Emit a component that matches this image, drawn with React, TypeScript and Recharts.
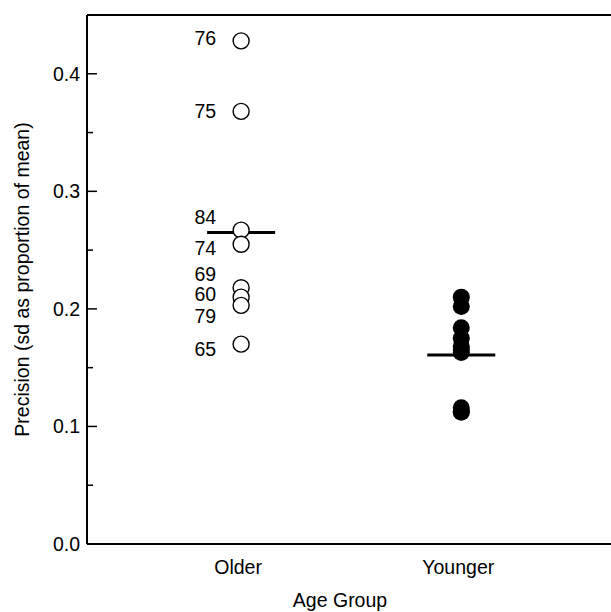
import { ScatterChart, Scatter, XAxis, YAxis, ReferenceLine } from "recharts";

const GROUPS = ["Older", "Younger"];
const OLDER_IDS = [76, 75, 84, 74, 69, 60, 79, 65];
const OLDER_VALUES = [0.428, 0.368, 0.267, 0.255, 0.218, 0.21, 0.203, 0.17];
const YOUNGER_VALUES = [0.21, 0.202, 0.184, 0.175, 0.168, 0.165, 0.163, 0.116, 0.113, 0.112];
const MAJOR_TICKS = [0, 0.1, 0.2, 0.3, 0.4];
const MINOR_TICKS = [0.05, 0.15, 0.25, 0.35];

// pixel nudges so the subject ids don't run into each other
const LABEL_DY: Record<number, number> = { 76: -3, 75: 0, 84: -13, 74: 4, 69: -14, 60: -3, 79: 11, 65: 5 };

const mean = (a: number[]) => a.reduce((s, v) => s + v, 0) / a.length;

const olderData = OLDER_VALUES.map((v, i) => ({ x: 1, y: v, id: OLDER_IDS[i] }));
const youngerData = YOUNGER_VALUES.map((v) => ({ x: 2, y: v }));
const meanData = [
  { x: 1, y: mean(OLDER_VALUES) },
  { x: 2, y: mean(YOUNGER_VALUES) },
];

const FONT = "Arial, 'Liberation Sans', sans-serif";
const FS = 19.5;

function YTick(props: any) {
  const { x, y, payload } = props;
  const major = MAJOR_TICKS.includes(payload.value);
  return (
    <g>
      <line x1={x} x2={x + (major ? 10 : 6)} y1={y} y2={y} stroke="#000" strokeWidth={1.5} />
      {major && (
        <text x={x - 7} y={y} dy={7} textAnchor="end" fontSize={FS} fill="#000">
          {payload.value.toFixed(1)}
        </text>
      )}
    </g>
  );
}

function XTick(props: any) {
  const { x, y, payload } = props;
  return (
    <text x={x} y={y} dx={-3} dy={30} textAnchor="middle" fontSize={FS} fill="#000">
      {GROUPS[payload.value - 1]}
    </text>
  );
}

const MeanBar = (props: any) => (
  <line x1={props.cx - 34} x2={props.cx + 34} y1={props.cy} y2={props.cy} stroke="#000" strokeWidth={3} />
);

const OpenPoint = (props: any) => {
  const { cx, cy, payload } = props;
  return (
    <g>
      <circle cx={cx} cy={cy} r={8} fill="#fff" stroke="#000" strokeWidth={1.4} />
      <text x={cx - 25} y={cy + (LABEL_DY[payload.id] ?? 0)} dy={7} textAnchor="end" fontSize={FS} fill="#000">
        {payload.id}
      </text>
    </g>
  );
};

const FilledPoint = (props: any) => <circle cx={props.cx} cy={props.cy} r={8.5} fill="#000" />;

export default function App() {
  return (
    <div style={{ position: "absolute", left: 0, top: 0 }}>
      <ScatterChart
        width={611}
        height={612}
        margin={{ top: 15, right: 0, bottom: 0, left: 0 }}
        style={{ fontFamily: FONT }}
      >
        <XAxis
          type="number"
          dataKey="x"
          domain={[0.3, 2.68]}
          ticks={[1, 2]}
          tick={<XTick />}
          tickLine={false}
          tickSize={0}
          tickMargin={0}
          height={68}
          axisLine={{ stroke: "#000", strokeWidth: 2 }}
          label={{
            content: () => (
              <text x={340} y={607} textAnchor="middle" fontSize={FS} fill="#000">
                Age Group
              </text>
            ),
          }}
        />
        <YAxis
          type="number"
          dataKey="y"
          domain={[0, 0.45]}
          ticks={[...MAJOR_TICKS, ...MINOR_TICKS].sort((a, b) => a - b)}
          interval={0}
          tick={<YTick />}
          tickLine={false}
          tickSize={0}
          tickMargin={0}
          width={87}
          axisLine={{ stroke: "#000", strokeWidth: 2 }}
          label={{
            content: (p: any) => {
              const { y, height } = p.viewBox;
              const cx = 22;
              const cy = y + height / 2;
              return (
                <text
                  x={cx}
                  y={cy}
                  transform={`rotate(-90 ${cx} ${cy})`}
                  textAnchor="middle"
                  dominantBaseline="central"
                  fontSize={FS}
                  fill="#000"
                >
                  Precision (sd as proportion of mean)
                </text>
              );
            },
          }}
        />
        <ReferenceLine y={0.45} stroke="#000" strokeWidth={2} />
        <Scatter data={meanData} shape={<MeanBar />} isAnimationActive={false} />
        <Scatter data={olderData} shape={<OpenPoint />} isAnimationActive={false} />
        <Scatter data={youngerData} shape={<FilledPoint />} isAnimationActive={false} />
      </ScatterChart>
    </div>
  );
}
